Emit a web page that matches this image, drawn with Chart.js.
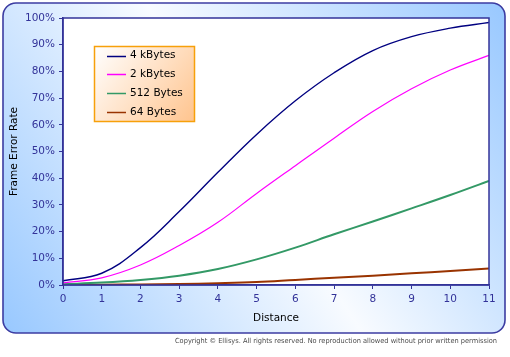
<!DOCTYPE html>
<html>
<head>
<meta charset="utf-8">
<script src="https://cdn.jsdelivr.net/npm/chart.js@4/dist/chart.umd.min.js"></script>
<style>
html,body{margin:0;padding:0;background:#fff;}
canvas{display:block;}
</style>
</head>
<body>
<canvas id="c" width="510" height="357"></canvas>
<script>
const distance = [0, 1, 2, 3, 4, 5, 6, 7, 8, 9, 10, 11];
const seriesNames = ["4 kBytes", "2 kBytes", "512 Bytes", "64 Bytes"];
const fourK = [1.6, 4.4, 14, 27.5, 42.2, 56.4, 69, 79.5, 87.8, 93, 96.2, 98.3];
const twoK = [0.8, 2.7, 7.5, 14.8, 23.5, 34.3, 44.7, 55, 65, 73.5, 80.5, 86];
const fiveTwelve = [0.3, 0.9, 1.9, 3.5, 6.0, 9.6, 14.0, 19, 23.8, 28.7, 33.7, 39];
const sixtyFour = [0.05, 0.1, 0.2, 0.35, 0.65, 1.1, 1.9, 2.7, 3.5, 4.4, 5.2, 6.2];
const yTicks = [0, 10, 20, 30, 40, 50, 60, 70, 80, 90, 100];
const xTitle = "Distance";
const yTitle = "Frame Error Rate";
const copyright = "Copyright \u00A9 Ellisys. All rights reserved. No reproduction allowed without prior written permission";

const colors = ["#000080", "#ff00ff", "#339966", "#993300"];
const widths = [1.4, 1.2, 2, 2];
const allSeries = [fourK, twoK, fiveTwelve, sixtyFour];
const FONT = "DejaVu Sans";
const AXIS = "#333399";

function pts(arr){ return distance.map((d,i)=>({x:d, y:arr[i]})); }

const bgPlugin = {
  id: 'bg',
  beforeDraw(chart){
    const ctx = chart.ctx;
    ctx.save();
    ctx.fillStyle = '#ffffff';
    ctx.fillRect(0,0,chart.width,chart.height);
    const x0=3, y0=3, x1=505, y1=333, r=13;
    const g = ctx.createLinearGradient(x0, y1, x1, y0);
    g.addColorStop(0, '#98c8ff');
    g.addColorStop(0.5, '#f8fbff');
    g.addColorStop(1, '#98c8ff');
    ctx.beginPath();
    ctx.moveTo(x0+r, y0);
    ctx.lineTo(x1-r, y0);
    ctx.arcTo(x1, y0, x1, y0+r, r);
    ctx.lineTo(x1, y1-r);
    ctx.arcTo(x1, y1, x1-r, y1, r);
    ctx.lineTo(x0+r, y1);
    ctx.arcTo(x0, y1, x0, y1-r, r);
    ctx.lineTo(x0, y0+r);
    ctx.arcTo(x0, y0, x0+r, y0, r);
    ctx.closePath();
    ctx.fillStyle = g;
    ctx.fill();
    ctx.lineWidth = 1.6;
    ctx.strokeStyle = '#3c3ca2';
    ctx.stroke();
    const a = chart.chartArea;
    ctx.fillStyle = '#ffffff';
    ctx.fillRect(a.left, a.top, a.right-a.left, a.bottom-a.top);
    ctx.font = '7px "' + FONT + '"';
    ctx.fillStyle = '#4a4a4a';
    ctx.textAlign = 'right';
    ctx.textBaseline = 'middle';
    ctx.fillText(copyright, 497, 341, 322);
    ctx.restore();
  },
  afterDraw(chart){
    const ctx = chart.ctx;
    const a = chart.chartArea;
    ctx.save();
    ctx.strokeStyle = AXIS;
    ctx.lineWidth = 1.5;
    ctx.strokeRect(a.left, a.top, a.right-a.left, a.bottom-a.top);
    const lx=94.5, ly=46.5, lw=100, lh=75;
    const g = ctx.createLinearGradient(lx, ly, lx+lw, ly+lh);
    g.addColorStop(0, '#ffffff');
    g.addColorStop(1, '#ffc48e');
    ctx.fillStyle = g;
    ctx.fillRect(lx, ly, lw, lh);
    ctx.strokeStyle = '#f7a00a';
    ctx.lineWidth = 1.5;
    ctx.strokeRect(lx, ly, lw, lh);
    ctx.font = '10.5px "' + FONT + '"';
    ctx.textAlign = 'left';
    ctx.textBaseline = 'middle';
    chart.data.datasets.forEach((ds, i) => {
      const y = 55.5 + i*18.8;
      ctx.strokeStyle = ds.borderColor;
      ctx.lineWidth = 1.5;
      ctx.beginPath();
      ctx.moveTo(107, Math.round(y)+0.5);
      ctx.lineTo(126, Math.round(y)+0.5);
      ctx.stroke();
      ctx.fillStyle = '#000000';
      ctx.fillText(ds.label, 130, y);
    });
    ctx.restore();
  }
};

new Chart(document.getElementById('c'), {
  type: 'line',
  data: {
    datasets: allSeries.map((s, i) => ({
      label: seriesNames[i],
      data: pts(s),
      borderColor: colors[i],
      backgroundColor: colors[i],
      borderWidth: widths[i],
      pointRadius: 0,
      fill: false,
      tension: 0.4
    }))
  },
  options: {
    responsive: false,
    animation: false,
    devicePixelRatio: 1,
    layout: { padding: { left: 8.4, top: 18, right: 21, bottom: 32.4 } },
    plugins: { legend: { display: false }, tooltip: { enabled: false } },
    scales: {
      x: {
        type: 'linear',
        min: 0, max: 11,
        afterFit(scale){ scale.height = 39.6; },
        ticks: { stepSize: 1, color: AXIS, padding: 4, font: { family: FONT, size: 10.5 } },
        grid: { drawOnChartArea: false, drawTicks: true, tickLength: 4, color: AXIS, lineWidth: 1 },
        border: { display: true, color: AXIS, width: 1.5 },
        title: { display: true, text: xTitle, color: '#000000', padding: 0, font: { family: FONT, size: 10.5 } }
      },
      y: {
        min: 0, max: 100,
        afterFit(scale){ scale.width = 54.6; },
        afterBuildTicks(scale){ scale.ticks = yTicks.map(v => ({ value: v })); },
        ticks: { color: AXIS, padding: 4, font: { family: FONT, size: 10.5 }, callback: v => v + '%' },
        grid: { drawOnChartArea: false, drawTicks: true, tickLength: 4, color: AXIS, lineWidth: 1 },
        border: { display: true, color: AXIS, width: 1.5 },
        title: { display: true, text: yTitle, color: '#000000', padding: 0, font: { family: FONT, size: 10.5 } }
      }
    }
  },
  plugins: [bgPlugin]
});
</script>
</body>
</html>
